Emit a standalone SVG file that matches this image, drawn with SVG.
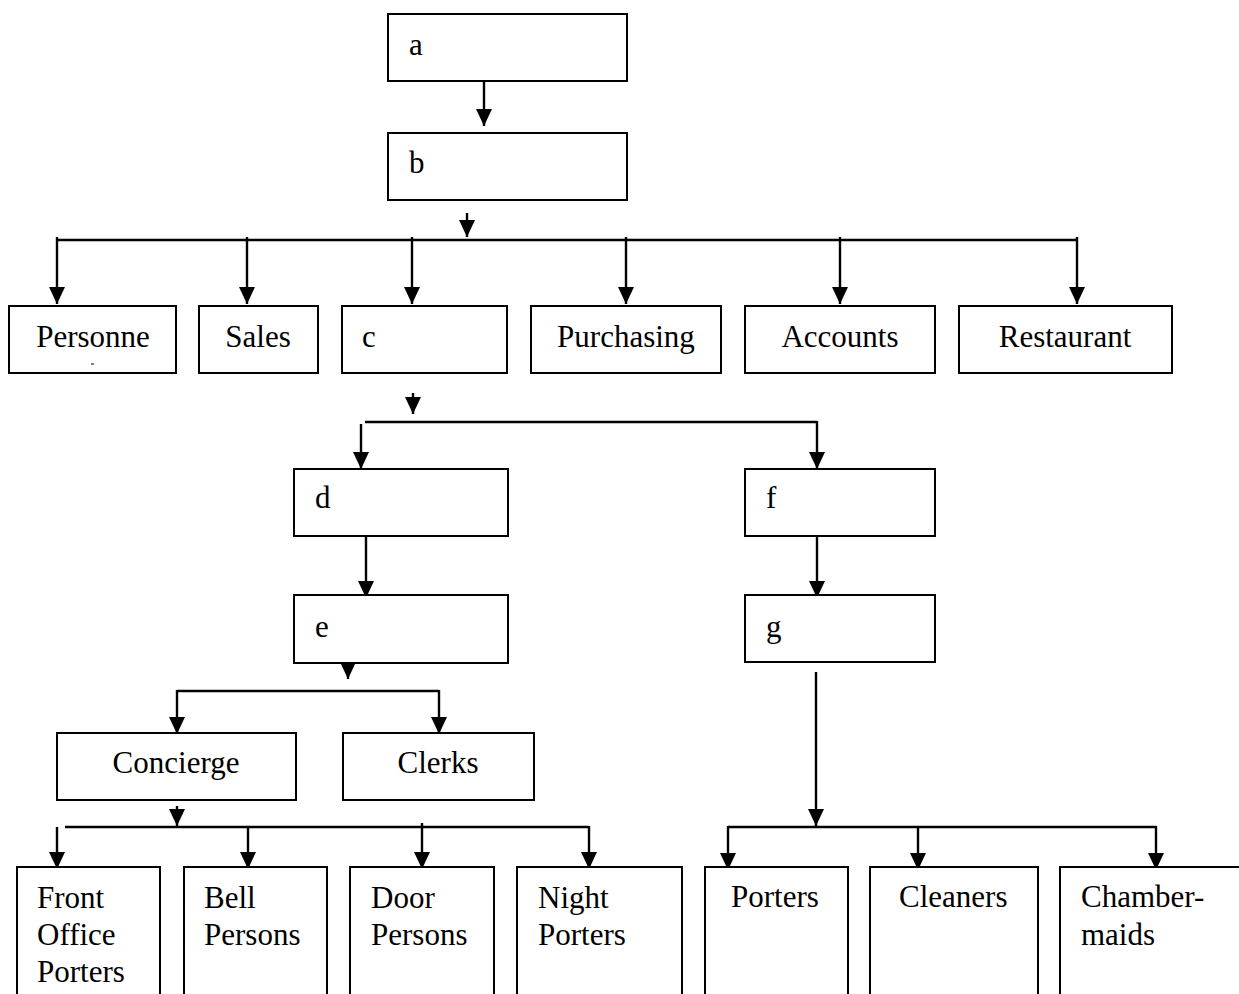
<svg xmlns="http://www.w3.org/2000/svg" width="1239" height="994" viewBox="0 0 1239 994">
<style>
rect.n{fill:#fff;stroke:#000;stroke-width:2}
text{font-family:"Liberation Serif","Times New Roman",serif;font-size:31px;fill:#000}
.c line,.c path{stroke:#000;stroke-width:2.4;fill:none}
</style>
<defs>
<marker id="ah" viewBox="0 0 17 16" refX="17" refY="8" markerWidth="17" markerHeight="16" markerUnits="userSpaceOnUse" orient="auto">
<path d="M0,0 L17,8 L0,16 z" fill="#000"/>
</marker>
</defs>
<rect width="1239" height="994" fill="#fff"/>
<g class="c" id="connectors">
<line x1="484" y1="81" x2="484" y2="126" marker-end="url(#ah)"/>
<line x1="467" y1="213" x2="467" y2="237" marker-end="url(#ah)"/>
<line x1="57" y1="240" x2="1077" y2="240"/>
<line x1="57" y1="237" x2="57" y2="304" marker-end="url(#ah)"/>
<line x1="247" y1="237" x2="247" y2="304" marker-end="url(#ah)"/>
<line x1="412" y1="237" x2="412" y2="304" marker-end="url(#ah)"/>
<line x1="626" y1="237" x2="626" y2="304" marker-end="url(#ah)"/>
<line x1="840" y1="237" x2="840" y2="304" marker-end="url(#ah)"/>
<line x1="1077" y1="237" x2="1077" y2="304" marker-end="url(#ah)"/>
<line x1="413" y1="393" x2="413" y2="414" marker-end="url(#ah)"/>
<line x1="365" y1="422" x2="817" y2="422"/>
<line x1="361" y1="424" x2="361" y2="469" marker-end="url(#ah)"/>
<line x1="817" y1="421" x2="817" y2="469" marker-end="url(#ah)"/>
<line x1="366" y1="536" x2="366" y2="598" marker-end="url(#ah)"/>
<line x1="817" y1="536" x2="817" y2="598" marker-end="url(#ah)"/>
<line x1="348" y1="663" x2="348" y2="679" marker-end="url(#ah)"/>
<line x1="177" y1="691" x2="439" y2="691"/>
<line x1="177" y1="690" x2="177" y2="734" marker-end="url(#ah)"/>
<line x1="439" y1="690" x2="439" y2="734" marker-end="url(#ah)"/>
<line x1="177" y1="806" x2="177" y2="826" marker-end="url(#ah)"/>
<line x1="65" y1="827" x2="589" y2="827"/>
<line x1="57" y1="827" x2="57" y2="869" marker-end="url(#ah)"/>
<line x1="248" y1="827" x2="248" y2="869" marker-end="url(#ah)"/>
<line x1="422" y1="823" x2="422" y2="869" marker-end="url(#ah)"/>
<line x1="589" y1="826" x2="589" y2="869" marker-end="url(#ah)"/>
<line x1="816" y1="672" x2="816" y2="826" marker-end="url(#ah)"/>
<line x1="728" y1="827" x2="1156" y2="827"/>
<line x1="728" y1="826" x2="728" y2="870" marker-end="url(#ah)"/>
<line x1="918" y1="827" x2="918" y2="870" marker-end="url(#ah)"/>
<line x1="1156" y1="826" x2="1156" y2="870" marker-end="url(#ah)"/>
</g>
<g id="a"><rect class="n" x="388" y="14" width="239" height="67"/><text x="409" y="55">a</text></g>
<g id="b"><rect class="n" x="388" y="133" width="239" height="67"/><text x="409" y="173">b</text></g>
<g id="personnel"><rect class="n" x="9" y="306" width="167" height="67"/><text x="93" y="347" text-anchor="middle">Personne</text><line x1="91" y1="364" x2="94" y2="364" stroke="#000" stroke-width="1"/></g>
<g id="sales"><rect class="n" x="199" y="306" width="119" height="67"/><text x="258" y="347" text-anchor="middle">Sales</text></g>
<g id="c"><rect class="n" x="342" y="306" width="165" height="67"/><text x="362" y="347">c</text></g>
<g id="purchasing"><rect class="n" x="531" y="306" width="190" height="67"/><text x="626" y="347" text-anchor="middle">Purchasing</text></g>
<g id="accounts"><rect class="n" x="745" y="306" width="190" height="67"/><text x="840" y="347" text-anchor="middle">Accounts</text></g>
<g id="restaurant"><rect class="n" x="959" y="306" width="213" height="67"/><text x="1065" y="347" text-anchor="middle">Restaurant</text></g>
<g id="d"><rect class="n" x="294" y="469" width="214" height="67"/><text x="315" y="508">d</text></g>
<g id="f"><rect class="n" x="745" y="469" width="190" height="67"/><text x="766" y="508">f</text></g>
<g id="e"><rect class="n" x="294" y="595" width="214" height="68"/><text x="315" y="637">e</text></g>
<g id="g"><rect class="n" x="745" y="595" width="190" height="67"/><text x="766" y="637">g</text></g>
<g id="concierge"><rect class="n" x="57" y="733" width="239" height="67"/><text x="176" y="773" text-anchor="middle">Concierge</text></g>
<g id="clerks"><rect class="n" x="343" y="733" width="191" height="67"/><text x="438" y="773" text-anchor="middle">Clerks</text></g>
<g id="frontoffice"><rect class="n" x="17" y="867" width="143" height="140"/><text x="37" y="908">Front</text><text x="37" y="945">Office</text><text x="37" y="982">Porters</text></g>
<g id="bell"><rect class="n" x="184" y="867" width="143" height="140"/><text x="204" y="908">Bell</text><text x="204" y="945">Persons</text></g>
<g id="door"><rect class="n" x="350" y="867" width="144" height="140"/><text x="371" y="908">Door</text><text x="371" y="945">Persons</text></g>
<g id="night"><rect class="n" x="517" y="867" width="165" height="140"/><text x="538" y="908">Night</text><text x="538" y="945">Porters</text></g>
<g id="porters"><rect class="n" x="705" y="867" width="143" height="140"/><text x="731" y="907">Porters</text></g>
<g id="cleaners"><rect class="n" x="870" y="867" width="168" height="140"/><text x="899" y="907">Cleaners</text></g>
<g id="chambermaids"><rect class="n" x="1060" y="867" width="190" height="140"/><text x="1081" y="907">Chamber-</text><text x="1081" y="945">maids</text></g>
</svg>
